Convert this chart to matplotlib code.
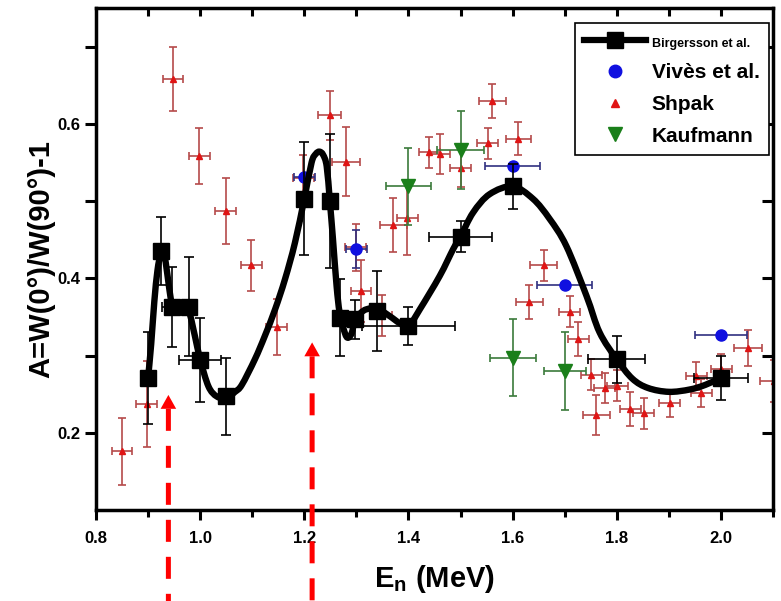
import matplotlib
matplotlib.use("Agg")
import matplotlib.pyplot as plt
from matplotlib.lines import Line2D
from matplotlib.path import Path
from matplotlib.patches import PathPatch

plt.rcParams["font.family"] = ["Liberation Sans", "DejaVu Sans"]
plt.rcParams["font.weight"] = "bold"
plt.rcParams["mathtext.fontset"] = "custom"
plt.rcParams["mathtext.rm"] = "Liberation Sans:bold"
plt.rcParams["mathtext.bf"] = "Liberation Sans:bold"

# Birgersson et al. measured points
birg_x = [0.900, 0.925, 0.946, 0.978, 1.000, 1.050, 1.200, 1.250, 1.268, 1.297, 1.340, 1.400, 1.500, 1.600, 1.800, 2.000]
birg_y = [0.271, 0.435, 0.363, 0.363, 0.294, 0.247, 0.503, 0.500, 0.349, 0.347, 0.358, 0.338, 0.454, 0.519, 0.295, 0.271]
birg_yerr = [0.059, 0.044, 0.052, 0.064, 0.054, 0.050, 0.073, 0.087, 0.050, 0.025, 0.052, 0.025, 0.020, 0.029, 0.030, 0.028]
birg_xerr = [0.0, 0.0, 0.020, 0.0, 0.040, 0.0, 0.0, 0.0, 0.0, 0.0, 0.0, 0.090, 0.060, 0.0, 0.055, 0.052]

# Birgersson et al. fitted curve (knots)
fit_x = [0.900, 0.906, 0.912, 0.918, 0.924, 0.929, 0.934, 0.940, 0.946, 0.955, 0.966, 0.978,
         0.990, 1.000, 1.016, 1.032, 1.050, 1.067, 1.080, 1.105, 1.124, 1.144, 1.163, 1.182,
         1.200, 1.214, 1.222, 1.229, 1.236, 1.243, 1.249, 1.255, 1.262, 1.268, 1.278, 1.284,
         1.291, 1.297, 1.308, 1.320, 1.340, 1.364, 1.383, 1.400, 1.422, 1.460, 1.486, 1.500,
         1.524, 1.556, 1.600, 1.639, 1.671, 1.703, 1.742, 1.767, 1.800, 1.830, 1.860, 1.900,
         1.940, 1.970, 2.000]
fit_y = [0.271, 0.315, 0.370, 0.410, 0.432, 0.436, 0.420, 0.390, 0.366, 0.360, 0.362, 0.358,
         0.325, 0.295, 0.260, 0.247, 0.245, 0.253, 0.262, 0.295, 0.325, 0.360, 0.399, 0.446,
         0.503, 0.550, 0.561, 0.564, 0.560, 0.545, 0.500, 0.451, 0.390, 0.355, 0.329, 0.323,
         0.329, 0.345, 0.355, 0.360, 0.361, 0.351, 0.342, 0.338, 0.360, 0.403, 0.438, 0.454,
         0.485, 0.509, 0.519, 0.503, 0.477, 0.442, 0.377, 0.330, 0.295, 0.270, 0.258, 0.253,
         0.256, 0.262, 0.271]

# Vives et al.
vives_x = [1.20, 1.30, 1.60, 1.70, 2.00]
vives_y = [0.531, 0.438, 0.546, 0.391, 0.326]
vives_xerr = [0.020, 0.020, 0.053, 0.053, 0.050]
vives_yerr = [0.0, 0.025, 0.0, 0.0, 0.0]

# Shpak
shpak_x = [0.850, 0.897, 0.948, 0.998, 1.049, 1.098, 1.147, 1.198, 1.249, 1.280, 1.299, 1.309,
           1.349, 1.371, 1.398, 1.440, 1.460, 1.500, 1.552, 1.561, 1.611, 1.632, 1.660, 1.710,
           1.726, 1.751, 1.761, 1.777, 1.801, 1.826, 1.852, 1.902, 1.953, 1.962, 2.001, 2.052,
           2.101]
shpak_y = [0.176, 0.237, 0.658, 0.558, 0.487, 0.417, 0.337, 0.530, 0.611, 0.551, 0.440, 0.384,
           0.352, 0.469, 0.478, 0.563, 0.561, 0.543, 0.575, 0.630, 0.581, 0.369, 0.417, 0.357,
           0.322, 0.275, 0.223, 0.258, 0.261, 0.231, 0.225, 0.238, 0.274, 0.251, 0.282, 0.310,
           0.267]
shpak_yerr = [0.043, 0.056, 0.042, 0.036, 0.043, 0.033, 0.036, 0.030, 0.032, 0.045, 0.030, 0.040,
              0.027, 0.035, 0.048, 0.020, 0.026, 0.025, 0.020, 0.022, 0.021, 0.022, 0.020, 0.020,
              0.022, 0.020, 0.026, 0.020, 0.020, 0.022, 0.020, 0.018, 0.018, 0.018, 0.020, 0.023,
              0.027]
shpak_xerr = [0.020, 0.020, 0.020, 0.020, 0.020, 0.020, 0.020, 0.020, 0.022, 0.026, 0.020, 0.020,
              0.020, 0.026, 0.020, 0.020, 0.020, 0.020, 0.020, 0.026, 0.024, 0.026, 0.026, 0.020,
              0.020, 0.020, 0.026, 0.020, 0.020, 0.020, 0.020, 0.020, 0.020, 0.020, 0.020, 0.026,
              0.026]

# Kaufmann
kauf_x = [1.40, 1.50, 1.60, 1.70]
kauf_y = [0.519, 0.566, 0.297, 0.280]
kauf_yerr = [0.050, 0.050, 0.050, 0.050]
kauf_xerr = [0.043, 0.045, 0.044, 0.040]

# resonance markers: energy, arrow tip
arrow_x = [0.939, 1.215]
arrow_tip = [0.249, 0.317]


def smooth_path(xs, ys):
    """Bezier path through the knots (Catmull-Rom tangents)."""
    pts = list(zip(xs, ys))
    verts = [pts[0]]
    codes = [Path.MOVETO]
    n = len(pts)
    for i in range(n - 1):
        p0 = pts[max(i - 1, 0)]
        p1 = pts[i]
        p2 = pts[i + 1]
        p3 = pts[min(i + 2, n - 1)]
        c1 = (p1[0] + (p2[0] - p0[0]) / 6, p1[1] + (p2[1] - p0[1]) / 6)
        c2 = (p2[0] - (p3[0] - p1[0]) / 6, p2[1] - (p3[1] - p1[1]) / 6)
        verts += [c1, c2, p2]
        codes += [Path.CURVE4] * 3
    return Path(verts, codes)


fig = plt.figure(figsize=(7.81, 6.01), dpi=100)
ax = fig.add_axes([96 / 781, 91 / 601, 677 / 781, 502 / 601])

ax.errorbar(shpak_x, shpak_y, yerr=shpak_yerr, xerr=shpak_xerr, fmt="^", ms=5,
            color="#e01515", ecolor="#b54a4a", elinewidth=1.2, capsize=3, capthick=1.2, zorder=2)
ax.errorbar(kauf_x, kauf_y, yerr=kauf_yerr, xerr=kauf_xerr, fmt="v", ms=10,
            color="#1a7f1a", ecolor="#3b7a3b", elinewidth=1.2, capsize=3, capthick=1.2, zorder=3)
ax.errorbar(vives_x, vives_y, yerr=vives_yerr, xerr=vives_xerr, fmt="o", ms=8,
            color="#1010e0", ecolor="#303080", elinewidth=1.2, capsize=3, capthick=1.2, zorder=3)
ax.errorbar(birg_x, birg_y, yerr=birg_yerr, xerr=birg_xerr, fmt="none",
            ecolor="black", elinewidth=1.2, capsize=3.5, capthick=1.2, zorder=4)
ax.add_patch(PathPatch(smooth_path(fit_x, fit_y), facecolor="none", edgecolor="black",
                       lw=4.6, joinstyle="round", capstyle="round", zorder=5))
ax.plot(birg_x, birg_y, "s", color="black", ms=12, zorder=6)

for x, tip in zip(arrow_x, arrow_tip):
    base = tip - 0.018
    # dashed shaft running off the bottom of the figure
    ax.annotate("", xy=(x, 0), xycoords=("data", "figure fraction"),
                xytext=(x, base), textcoords="data", annotation_clip=False,
                arrowprops=dict(arrowstyle="-", color="red", lw=3.6,
                                linestyle=(0, (4.4, 3.0)), shrinkA=0, shrinkB=0,
                                capstyle="butt"), zorder=10)
    # solid head
    ax.annotate("", xy=(x, tip), xytext=(x, base), annotation_clip=False,
                arrowprops=dict(arrowstyle="-|>,head_length=0.5,head_width=0.28",
                                mutation_scale=20, color="red", lw=0,
                                shrinkA=0, shrinkB=0), zorder=10)

ax.set_xlim(0.8, 2.1)
ax.set_ylim(0.1, 0.75)
ax.set_xticks([0.8, 1.0, 1.2, 1.4, 1.6, 1.8, 2.0])
ax.set_xticks([0.9, 1.1, 1.3, 1.5, 1.7, 1.9, 2.1], minor=True)
ax.set_yticks([0.2, 0.4, 0.6])
ax.set_yticks([0.3, 0.5, 0.7], minor=True)
ax.tick_params(axis="x", which="major", direction="out", length=7, width=2.2,
               labelsize=12, pad=8)
ax.tick_params(axis="x", which="minor", direction="out", length=5, width=2.2)
ax.tick_params(axis="y", which="both", direction="out", length=8, width=2.2,
               labelsize=12, pad=3)
for s in ax.spines.values():
    s.set_linewidth(2.5)

top = ax.secondary_xaxis("top")
top.set_xticks([0.9, 1.0, 1.1, 1.2, 1.3, 1.4, 1.5, 1.6, 1.7, 1.8, 1.9, 2.0], labels=[])
top.tick_params(direction="in", length=6, width=2.2)
right = ax.secondary_yaxis("right")
right.set_yticks([0.2, 0.3, 0.4, 0.5, 0.6, 0.7], labels=[])
right.tick_params(direction="in", length=8, width=2.2)

ax.set_xlabel(r"$\mathbf{E_n}$ (MeV)", fontsize=21, fontweight="bold")
ax.xaxis.set_label_coords(0.5, -0.105)
ax.set_ylabel("A=W(0°)/W(90°)-1", fontsize=21, fontweight="bold")
ax.yaxis.set_label_coords(-0.06, 0.5)

handles = [
    Line2D([], [], color="black", lw=4.5, marker="s", ms=12),
    Line2D([], [], color="#1010e0", lw=0, marker="o", ms=9),
    Line2D([], [], color="#e01515", lw=0, marker="^", ms=6),
    Line2D([], [], color="#1a7f1a", lw=0, marker="v", ms=10),
]
labels = ["Birgersson et al.", "Vivès et al.", "Shpak", "Kaufmann"]
leg = ax.legend(handles, labels, loc="upper right", bbox_to_anchor=(0.994, 0.970),
                borderaxespad=0, fancybox=False, edgecolor="black", framealpha=1,
                prop={"size": 15, "weight": "bold"}, handlelength=3.0,
                handletextpad=0.25, labelspacing=0.62, borderpad=0.45)
leg.get_frame().set_linewidth(1.2)
leg.get_texts()[0].set_fontsize(9)

fig.savefig("out.png", dpi=100)
